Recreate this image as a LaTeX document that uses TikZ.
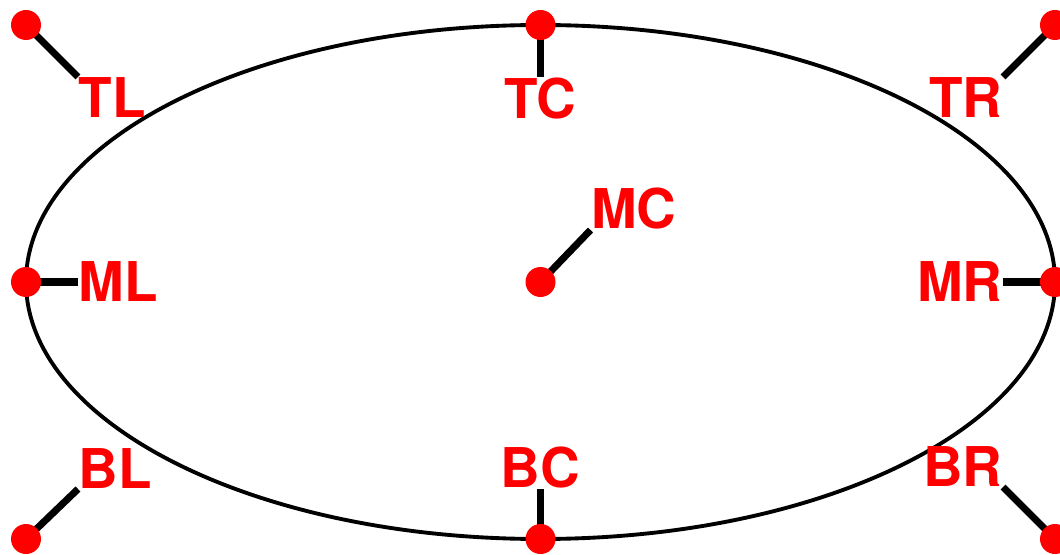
\documentclass[tikz,border=0pt]{standalone}
\usepackage{fontspec}
\setsansfont{TeX Gyre Heros}
\usetikzlibrary{shapes.geometric, positioning, calc, backgrounds}

\begin{document}
\begin{tikzpicture}[
  oval/.style={
    ellipse, draw=black, line width=1.1pt,
    minimum width=10.29cm, minimum height=5.14cm,
    inner sep=0pt, outer sep=0pt
  },
  pt/.style={circle, fill=red, minimum size=3mm, inner sep=0pt},
  lbl/.style={text=red, font=\sffamily\bfseries\fontsize{15.6}{18}\selectfont, inner sep=0pt},
  stub/.style={draw=black, line width=2pt}
]

% ── Marco ─────────────────────────────────────────────────────
\clip (0,0) rectangle (10.60,5.54);

% ── Elipse ────────────────────────────────────────────────────
\node[oval] (E) at (5.405,2.72) {};

% ── Puntos de anclaje ─────────────────────────────────────────
\node[pt] (pTL) at (E.west |- E.north) {};
\node[pt] (pTC) at (E.north) {};
\node[pt] (pTR) at (E.east |- E.north) {};
\node[pt] (pML) at (E.west) {};
\node[pt] (pMC) at (E.center) {};
\node[pt] (pMR) at (E.east) {};
\node[pt] (pBL) at (E.west |- E.south) {};
\node[pt] (pBC) at (E.south) {};
\node[pt] (pBR) at (E.east |- E.south) {};

% ── Etiquetas ─────────────────────────────────────────────────
\node[lbl, anchor=north west] (TL) at ($(pTL)+(0.52,-0.52)$) {TL};
\node[lbl, anchor=north]      (TC) at ($(pTC)+(0,-0.52)$)    {TC};
\node[lbl, anchor=north east] (TR) at ($(pTR)+(-0.52,-0.52)$) {TR};
\node[lbl, anchor=west]       (ML) at ($(pML)+(0.52,0)$)     {ML};
\node[lbl, anchor=south west] (MC) at ($(pMC)+(0.50,0.52)$)  {MC};
\node[lbl, anchor=east]       (MR) at ($(pMR)+(-0.52,0)$)    {MR};
\node[lbl, anchor=south west] (BL) at ($(pBL)+(0.52,0.50)$)  {BL};
\node[lbl, anchor=south]      (BC) at ($(pBC)+(0,0.50)$)     {BC};
\node[lbl, anchor=south east] (BR) at ($(pBR)+(-0.52,0.52)$) {BR};

% ── Trazos punto → etiqueta ───────────────────────────────────
\begin{scope}[on background layer]
  \draw[stub] (pTL.center) -- (TL.north west);
  \draw[stub] (pTC.center) -- (TC.north);
  \draw[stub] (pTR.center) -- (TR.north east);
  \draw[stub] (pML.center) -- (ML.west);
  \draw[stub] (pMC.center) -- (MC.south west);
  \draw[stub] (pMR.center) -- (MR.east);
  \draw[stub] (pBL.center) -- (BL.south west);
  \draw[stub] (pBC.center) -- (BC.south);
  \draw[stub] (pBR.center) -- (BR.south east);
\end{scope}

\end{tikzpicture}
\end{document}
